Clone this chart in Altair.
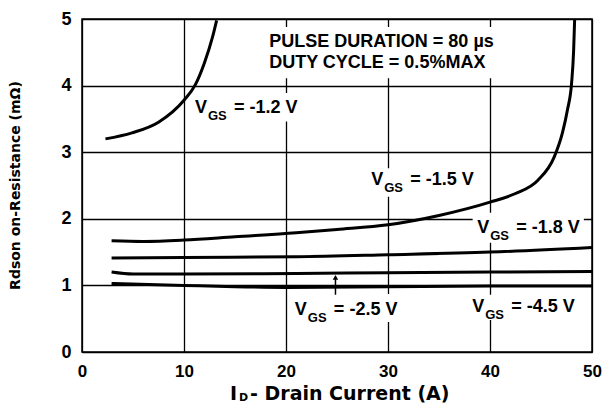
import altair as alt
import pandas as pd

# ---- data ----
x_ticks = [0, 10, 20, 30, 40, 50]
y_ticks = [0, 1, 2, 3, 4, 5]

id_m12 = [2.3, 4.9, 7.5, 10.0, 11.1, 12.0, 12.8, 13.2]
r_m12 = [3.20, 3.29, 3.45, 3.78, 4.01, 4.34, 4.73, 4.98]

id_m15 = [2.9, 6, 10, 15, 21, 25, 30, 35, 40, 42.5, 44.7, 46.3, 47.1, 47.6, 48.0, 48.2, 48.3]
r_m15 = [1.67, 1.66, 1.68, 1.73, 1.79, 1.84, 1.91, 2.05, 2.25, 2.38, 2.58, 2.93, 3.29, 3.64, 4.04, 4.53, 5.0]

id_m18 = [2.9, 10, 21, 30, 40, 50]
r_m18 = [1.41, 1.42, 1.43, 1.46, 1.50, 1.57]

id_m25 = [2.9, 5, 10, 21, 30, 40, 50]
r_m25 = [1.20, 1.17, 1.17, 1.18, 1.19, 1.20, 1.21]

id_m45 = [2.9, 10, 15, 20, 30, 40, 50]
r_m45 = [1.03, 1.00, 0.98, 0.97, 0.98, 0.99, 0.99]

series_names = ["-1.2", "-1.5", "-1.8", "-2.5", "-4.5"]
label_eq = ["= -1.2 V", "= -1.5 V", "= -1.8 V", "= -2.5 V", "= -4.5 V"]
label_x = [11.07, 28.35, 38.74, 20.87, 38.25]
label_y = [3.66, 2.58, 1.86, 0.63, 0.68]

note_lines = ["PULSE DURATION = 80 \u00b5s", "DUTY CYCLE = 0.5%MAX"]
note_x = [18.35, 18.35]
note_y = [4.65, 4.34]

# white boxes behind the annotations (data units)
box_x0 = [17.7, 10.9, 27.9, 38.3, 20.5, 37.8]
box_x1 = [41.5, 22.0, 39.0, 49.2, 31.6, 49.0]
box_y0 = [4.11, 3.46, 2.33, 1.64, 0.45, 0.48]
box_y1 = [4.88, 3.89, 2.76, 2.09, 0.87, 0.86]

arrow_x = [24.85]
arrow_y0 = [0.86]
arrow_y1 = [1.12]

# ---- tables ----
rows = []
for name, xs_, ys_ in zip(series_names,
                          [id_m12, id_m15, id_m18, id_m25, id_m45],
                          [r_m12, r_m15, r_m18, r_m25, r_m45]):
    for a, b in zip(xs_, ys_):
        rows.append({"id": a, "r": b, "series": name})
curves = pd.DataFrame(rows)

labels = pd.DataFrame({"x": label_x, "y": label_y, "v": ["V"] * 5, "sub": ["GS"] * 5, "eq": label_eq})
notes = pd.DataFrame({"x": note_x, "y": note_y, "t": note_lines})
boxes = pd.DataFrame({"x0": box_x0, "x1": box_x1, "y0": box_y0, "y1": box_y1})
arrow = pd.DataFrame({"x": arrow_x, "y0": arrow_y0, "y1": arrow_y1})

xs = alt.Scale(domain=[0, 50], nice=False, zero=False)
ys = alt.Scale(domain=[0, 5], nice=False, zero=False)

LABEL_FONT = "Liberation Sans"
Y_TITLE = "Rdson on-Resistance (m\u03a9)"

x_axis = alt.Axis(values=x_ticks, title=None, grid=True, gridColor="black", gridWidth=1.3,
                  gridOpacity=1, ticks=False, domain=False, labelFont=LABEL_FONT,
                  labelFontWeight="bold", labelFontSize=17, labelColor="black", labelPadding=11,
                  labelFlush=False)
y_axis = alt.Axis(values=y_ticks, title=Y_TITLE, grid=True, gridColor="black",
                  gridWidth=1.3, gridOpacity=1, ticks=False, domain=False, labelFont=LABEL_FONT,
                  labelFontWeight="bold", labelFontSize=18, labelColor="black", labelPadding=11,
                  labelFlush=False, titleFont="DejaVu Sans", titleFontWeight="bold", titleFontSize=14,
                  titleColor="black", titleX=-67, titleY=166, titleAngle=270, titleAlign="center",
                  titleBaseline="middle")


def X(f):
    return alt.X(f, scale=xs, axis=x_axis, title=None)


def Y(f):
    return alt.Y(f, scale=ys, axis=y_axis, title=Y_TITLE)


box_layer = alt.Chart(boxes).mark_rect(color="white").encode(
    x=X("x0:Q"), x2="x1:Q", y=Y("y0:Q"), y2="y1:Q")

line_layer = alt.Chart(curves).mark_line(color="black", strokeWidth=3, interpolate="monotone").encode(
    x=X("id:Q"), y=Y("r:Q"), detail="series:N")

arrow_rule = alt.Chart(arrow).mark_rule(color="black", strokeWidth=1.5).encode(
    x=X("x:Q"), y=Y("y0:Q"), y2="y1:Q")
arrow_head = alt.Chart(arrow).mark_point(shape="triangle-up", filled=True, color="black",
                                         size=30, opacity=1).encode(
    x=X("x:Q"), y=Y("y1:Q"))

txt = dict(font=LABEL_FONT, fontWeight="bold", color="black", align="left", baseline="middle")
v_layer = alt.Chart(labels).mark_text(fontSize=18, **txt).encode(
    x=X("x:Q"), y=Y("y:Q"), text="v:N")
sub_layer = alt.Chart(labels).mark_text(fontSize=13, dx=13, dy=8, **txt).encode(
    x=X("x:Q"), y=Y("y:Q"), text="sub:N")
eq_layer = alt.Chart(labels).mark_text(fontSize=18, dx=39, **txt).encode(
    x=X("x:Q"), y=Y("y:Q"), text="eq:N")
note_layer = alt.Chart(notes).mark_text(fontSize=18, **txt).encode(
    x=X("x:Q"), y=Y("y:Q"), text="t:N")

xt = dict(font="DejaVu Sans", fontWeight="bold", color="black", align="left", baseline="middle")
xtitle_df = pd.DataFrame({"a": ["I"], "b": ["D"], "c": ["- Drain Current (A)"]})
xt_a = alt.Chart(xtitle_df).mark_text(fontSize=19, **xt).encode(
    x=alt.value(148), y=alt.value(375), text="a:N")
xt_b = alt.Chart(xtitle_df).mark_text(fontSize=11, **xt).encode(
    x=alt.value(157), y=alt.value(379), text="b:N")
xt_c = alt.Chart(xtitle_df).mark_text(fontSize=19, **xt).encode(
    x=alt.value(168), y=alt.value(375), text="c:N")

chart = alt.layer(box_layer, line_layer, arrow_rule, arrow_head, v_layer, sub_layer, eq_layer,
                  note_layer, xt_a, xt_b, xt_c).properties(
    width=510, height=333,
    autosize=alt.AutoSizeParams(type="none"),
    padding={"left": 74, "top": 11, "right": 11, "bottom": 52},
    background="white",
).configure_view(stroke="black", strokeWidth=1.5)

chart.save("out.html", embed_options={"renderer": "svg", "actions": False})
